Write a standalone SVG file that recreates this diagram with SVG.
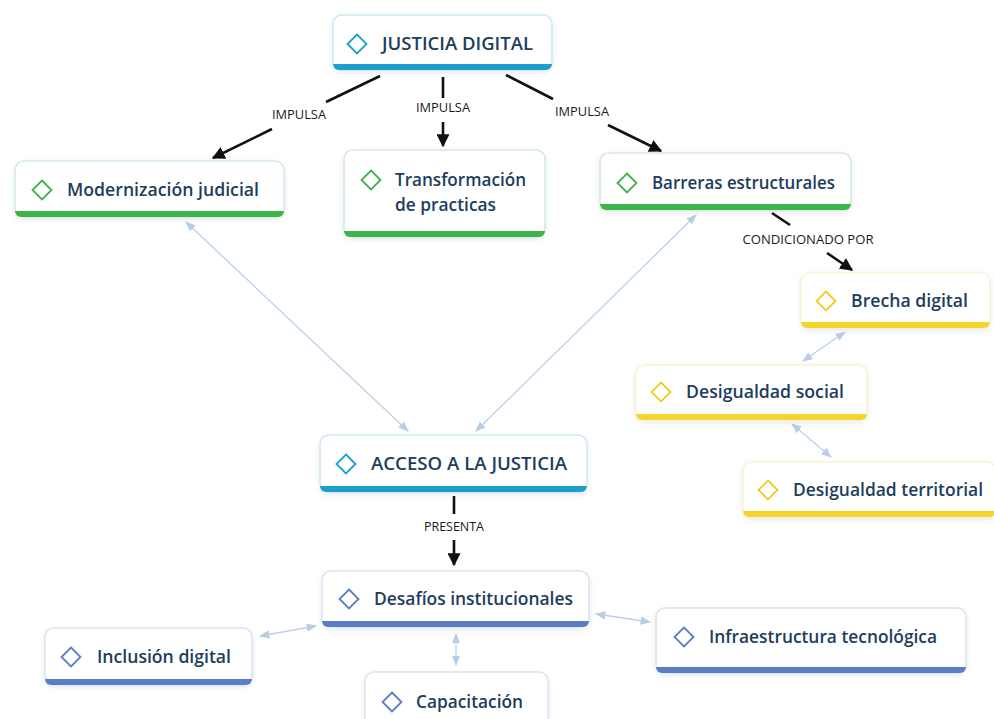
<svg xmlns="http://www.w3.org/2000/svg" width="994" height="719" viewBox="0 0 994 719">
<defs>
<filter id="sh" x="-10%" y="-20%" width="120%" height="150%">
<feDropShadow dx="0" dy="2" stdDeviation="2.5" flood-color="#6a7f99" flood-opacity="0.18"/>
</filter>
<marker id="ah" viewBox="0 0 10 10" refX="9" refY="5" markerWidth="5" markerHeight="5" orient="auto" markerUnits="strokeWidth">
<path d="M0,0 L10,5 L0,10 z" fill="#111"/>
</marker>
<marker id="lb" viewBox="0 0 10 10" refX="9" refY="5" markerWidth="8" markerHeight="8" orient="auto-start-reverse" markerUnits="strokeWidth">
<path d="M0,1 L10,5 L0,9 z" fill="#b9cde6"/>
</marker>
</defs>
<style>
.box{fill:#fff;stroke-width:1.5;filter:url(#sh)}
.t{font-family:"Open Sans","Noto Sans","DejaVu Sans",sans-serif;font-weight:600;font-size:18px;fill:#1d3d5c}
.lab{font-family:"Open Sans","Noto Sans","DejaVu Sans",sans-serif;font-size:13px;fill:#1a1a1a;text-anchor:middle}
.dk{stroke:#111;stroke-width:2.6;fill:none}
.lt{stroke:#bcd0e8;stroke-width:1.3;fill:none}
.dm{fill:none;stroke-width:1.8}
.blue .box{stroke:#cde9f3}.blue .bar{fill:#1b9fcc}.blue .dm{stroke:#1b9fcc}
.green .box{stroke:#d3ecd5}.green .bar{fill:#3cb44b}.green .dm{stroke:#3cb44b}
.yellow .box{stroke:#fbf3d6}.yellow .bar{fill:#f6d42b}.yellow .dm{stroke:#efcd25}
.peri .box{stroke:#d9e4f4}.peri .bar{fill:#5b7dc4}.peri .dm{stroke:#5b7dc4}
</style>
<rect width="994" height="719" fill="#fff"/>

<g id="connectors">
<line class="dk" x1="380" y1="76" x2="326" y2="102"/>
<line class="dk" x1="272" y1="129" x2="213" y2="158" marker-end="url(#ah)"/>
<text class="lab" x="299" y="119" textLength="54" lengthAdjust="spacingAndGlyphs">IMPULSA</text>
<line class="dk" x1="443" y1="77" x2="443" y2="98"/>
<line class="dk" x1="443" y1="122" x2="443" y2="146" marker-end="url(#ah)"/>
<text class="lab" x="443" y="112" textLength="54" lengthAdjust="spacingAndGlyphs">IMPULSA</text>
<line class="dk" x1="506" y1="75" x2="553" y2="99"/>
<line class="dk" x1="608" y1="125" x2="661" y2="151" marker-end="url(#ah)"/>
<text class="lab" x="582" y="116" textLength="54" lengthAdjust="spacingAndGlyphs">IMPULSA</text>
<line class="dk" x1="772" y1="213" x2="790" y2="225"/>
<line class="dk" x1="827" y1="253" x2="852" y2="270" marker-end="url(#ah)"/>
<text class="lab" x="808" y="244" textLength="131" lengthAdjust="spacingAndGlyphs">CONDICIONADO POR</text>
<line class="dk" x1="454" y1="496" x2="454" y2="514"/>
<line class="dk" x1="454" y1="540" x2="454" y2="565" marker-end="url(#ah)"/>
<text class="lab" x="454" y="531" textLength="60" lengthAdjust="spacingAndGlyphs">PRESENTA</text>
<line class="lt" x1="186" y1="222" x2="408" y2="431" marker-start="url(#lb)" marker-end="url(#lb)"/>
<line class="lt" x1="696" y1="215" x2="476" y2="431" marker-start="url(#lb)" marker-end="url(#lb)"/>
<line class="lt" x1="845" y1="332" x2="803" y2="361" marker-start="url(#lb)" marker-end="url(#lb)"/>
<line class="lt" x1="792" y1="424" x2="831" y2="457" marker-start="url(#lb)" marker-end="url(#lb)"/>
<line class="lt" x1="260" y1="636" x2="316" y2="626" marker-start="url(#lb)" marker-end="url(#lb)"/>
<line class="lt" x1="596" y1="614" x2="650" y2="622" marker-start="url(#lb)" marker-end="url(#lb)"/>
<line class="lt" x1="456" y1="634" x2="456" y2="665" marker-start="url(#lb)" marker-end="url(#lb)"/>
</g>

<g id="justicia-digital" class="blue">
<rect class="box" x="333" y="15" width="219" height="55" rx="9"/>
<path class="bar" d="M333,64 H552 A6,6 0 0 1 546,70 H339 A6,6 0 0 1 333,64 Z"/>
<path class="dm" d="M357,34.5 L366.5,44 L357,53.5 L347.5,44 Z"/>
<text class="t" x="382" y="50" font-size="19" textLength="151" lengthAdjust="spacingAndGlyphs">JUSTICIA DIGITAL</text>
</g>

<g id="modernizacion" class="green">
<rect class="box" x="15" y="161" width="269" height="56" rx="9"/>
<path class="bar" d="M15,211 H284 A6,6 0 0 1 278,217 H21 A6,6 0 0 1 15,211 Z"/>
<path class="dm" d="M42,180.5 L51.5,190 L42,199.5 L32.5,190 Z"/>
<text class="t" x="67" y="196" textLength="192" lengthAdjust="spacingAndGlyphs">Modernización judicial</text>
</g>

<g id="transformacion" class="green">
<rect class="box" x="344" y="150" width="201" height="87" rx="9"/>
<path class="bar" d="M344,231 H545 A6,6 0 0 1 539,237 H350 A6,6 0 0 1 344,231 Z"/>
<path class="dm" d="M371,170.5 L380.5,180 L371,189.5 L361.5,180 Z"/>
<text class="t" x="395" y="186" textLength="131" lengthAdjust="spacingAndGlyphs">Transformación</text>
<text class="t" x="395" y="211" textLength="101" lengthAdjust="spacingAndGlyphs">de practicas</text>
</g>

<g id="barreras" class="green">
<rect class="box" x="600" y="153" width="251" height="57" rx="9"/>
<path class="bar" d="M600,204 H851 A6,6 0 0 1 845,210 H606 A6,6 0 0 1 600,204 Z"/>
<path class="dm" d="M627,173.5 L636.5,183 L627,192.5 L617.5,183 Z"/>
<text class="t" x="652" y="189" textLength="183" lengthAdjust="spacingAndGlyphs">Barreras estructurales</text>
</g>

<g id="brecha" class="yellow">
<rect class="box" x="801" y="273" width="189" height="55" rx="9"/>
<path class="bar" d="M801,322 H990 A6,6 0 0 1 984,328 H807 A6,6 0 0 1 801,322 Z"/>
<path class="dm" d="M826,291.5 L835.5,301 L826,310.5 L816.5,301 Z"/>
<text class="t" x="851" y="307" textLength="117" lengthAdjust="spacingAndGlyphs">Brecha digital</text>
</g>

<g id="desigualdad-social" class="yellow">
<rect class="box" x="636" y="365" width="231" height="55" rx="9"/>
<path class="bar" d="M636,414 H867 A6,6 0 0 1 861,420 H642 A6,6 0 0 1 636,414 Z"/>
<path class="dm" d="M661,382.5 L670.5,392 L661,401.5 L651.5,392 Z"/>
<text class="t" x="686" y="398" textLength="158" lengthAdjust="spacingAndGlyphs">Desigualdad social</text>
</g>

<g id="desigualdad-territorial" class="yellow">
<rect class="box" x="743" y="462" width="253" height="55" rx="9"/>
<path class="bar" d="M743,511 H996 A6,6 0 0 1 990,517 H749 A6,6 0 0 1 743,511 Z"/>
<path class="dm" d="M768,480.5 L777.5,490 L768,499.5 L758.5,490 Z"/>
<text class="t" x="793" y="496" textLength="190" lengthAdjust="spacingAndGlyphs">Desigualdad territorial</text>
</g>

<g id="acceso" class="blue">
<rect class="box" x="320" y="435" width="267" height="57" rx="9"/>
<path class="bar" d="M320,486 H587 A6,6 0 0 1 581,492 H326 A6,6 0 0 1 320,486 Z"/>
<path class="dm" d="M346,454.5 L355.5,464 L346,473.5 L336.5,464 Z"/>
<text class="t" x="371" y="470" font-size="19" textLength="196" lengthAdjust="spacingAndGlyphs">ACCESO A LA JUSTICIA</text>
</g>

<g id="desafios" class="peri">
<rect class="box" x="322" y="571" width="267" height="56" rx="9"/>
<path class="bar" d="M322,621 H589 A6,6 0 0 1 583,627 H328 A6,6 0 0 1 322,621 Z"/>
<path class="dm" d="M349,589.5 L358.5,599 L349,608.5 L339.5,599 Z"/>
<text class="t" x="374" y="605" textLength="199" lengthAdjust="spacingAndGlyphs">Desafíos institucionales</text>
</g>

<g id="inclusion" class="peri">
<rect class="box" x="45" y="628" width="207" height="57" rx="9"/>
<path class="bar" d="M45,679 H252 A6,6 0 0 1 246,685 H51 A6,6 0 0 1 45,679 Z"/>
<path class="dm" d="M71,647.5 L80.5,657 L71,666.5 L61.5,657 Z"/>
<text class="t" x="97" y="663" textLength="134" lengthAdjust="spacingAndGlyphs">Inclusión digital</text>
</g>

<g id="capacitacion" class="peri">
<rect class="box" x="365" y="672" width="183" height="62" rx="9"/>
<path class="dm" d="M392,692.5 L401.5,702 L392,711.5 L382.5,702 Z"/>
<text class="t" x="416" y="708" textLength="107" lengthAdjust="spacingAndGlyphs">Capacitación</text>
</g>

<g id="infraestructura" class="peri">
<rect class="box" x="656" y="608" width="310" height="65" rx="9"/>
<path class="bar" d="M656,667 H966 A6,6 0 0 1 960,673 H662 A6,6 0 0 1 656,667 Z"/>
<path class="dm" d="M684,627.5 L693.5,637 L684,646.5 L674.5,637 Z"/>
<text class="t" x="709" y="643" textLength="228" lengthAdjust="spacingAndGlyphs">Infraestructura tecnológica</text>
</g>
</svg>
